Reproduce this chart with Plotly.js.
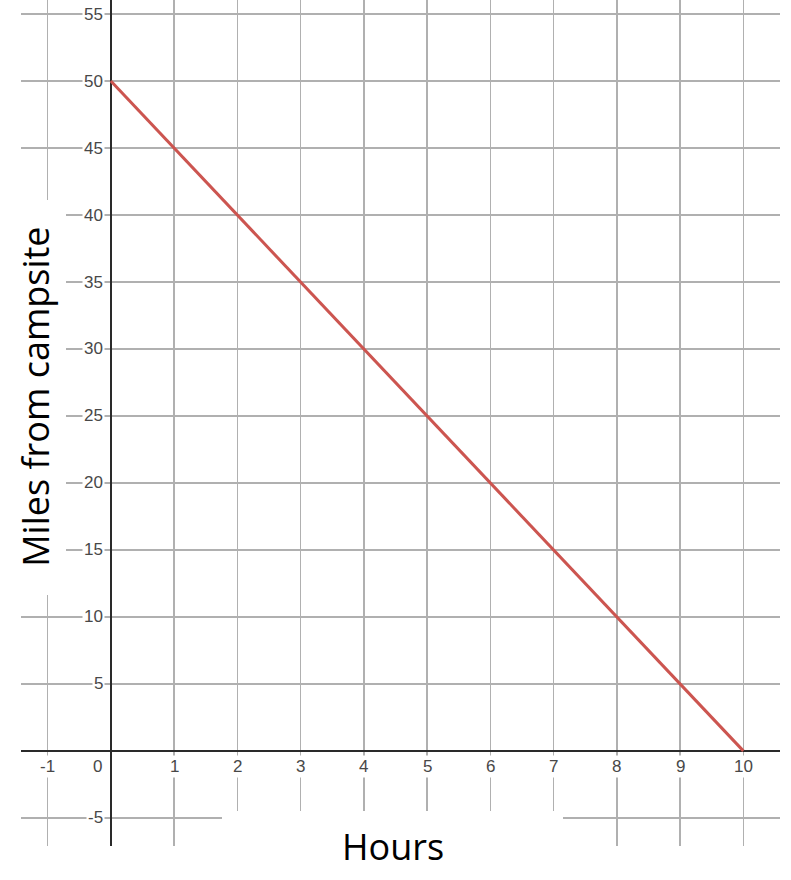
<!DOCTYPE html>
<html>
<head>
<meta charset="utf-8">
<script src="https://cdn.plot.ly/plotly-3.0.1.min.js"></script>
<style>
  body { margin: 0; padding: 0; background: #fff; }
  #chart { width: 791px; height: 880px; }
</style>
</head>
<body>
<div id="chart"></div>
<script>
var hours = [0, 1, 2, 3, 4, 5, 6, 7, 8, 9, 10];
var miles = [50, 45, 40, 35, 30, 25, 20, 15, 10, 5, 0];

var xTickVals = [-1, 0, 1, 2, 3, 4, 5, 6, 7, 8, 9, 10];
var yTickVals = [-5, 5, 10, 15, 20, 25, 30, 35, 40, 45, 50, 55];

var xTitle = 'Hours';
var yTitle = 'Miles from campsite';

var trace = {
    x: hours,
    y: miles,
    mode: 'lines',
    type: 'scatter',
    line: { color: '#cc5550', width: 3 },
    hoverinfo: 'none'
};

var tickFont = { family: 'Liberation Sans, Arial, sans-serif', size: 17, color: '#484848' };
var annotationContent = [];

// x tick labels sit just under the x axis, 0 is pushed left of the y axis
for (var i = 0; i < xTickVals.length; i++) {
    var isZero = xTickVals[i] === 0;
    annotationContent.push({
        x: xTickVals[i],
        y: 0,
        text: String(xTickVals[i]),
        xanchor: isZero ? 'right' : 'center',
        xshift: isZero ? -7 : 0,
        yanchor: 'top',
        yshift: -4,
        showarrow: false,
        bgcolor: '#ffffff',
        borderpad: 1,
        font: tickFont
    });
}

// y tick labels sit just left of the y axis
for (var j = 0; j < yTickVals.length; j++) {
    annotationContent.push({
        x: 0,
        y: yTickVals[j],
        text: String(yTickVals[j]),
        xanchor: 'right',
        xshift: -6,
        yanchor: 'middle',
        showarrow: false,
        bgcolor: '#ffffff',
        borderpad: 1,
        font: tickFont
    });
}

var titleFont = { family: 'Open Sans, sans-serif', size: 36, color: '#000000' };
annotationContent.push({
    xref: 'paper', yref: 'paper',
    x: 0.0198, y: 0.531,
    text: yTitle,
    textangle: -90,
    xanchor: 'center', yanchor: 'middle',
    showarrow: false,
    font: titleFont
});
annotationContent.push({
    xref: 'paper', yref: 'paper',
    x: 0.490, y: 0.0,
    text: xTitle,
    xanchor: 'center', yanchor: 'middle',
    showarrow: false,
    font: titleFont
});

// white patches behind the titles that cut the grid
var shapes = [
    {
        type: 'rect', xref: 'paper', yref: 'paper', layer: 'above',
        x0: -0.03, x1: 0.0593, y0: 0.2967, y1: 0.7636,
        fillcolor: '#ffffff', line: { width: 0 }
    },
    {
        type: 'rect', xref: 'paper', yref: 'paper', layer: 'above',
        x0: 0.2648, x1: 0.7141, y0: -0.05, y1: 0.0414,
        fillcolor: '#ffffff', line: { width: 0 }
    }
];

var layout = {
    width: 791,
    height: 880,
    margin: { l: 21, r: 11, t: 0, b: 34, pad: 0 },
    paper_bgcolor: '#ffffff',
    plot_bgcolor: '#ffffff',
    showlegend: false,
    annotations: annotationContent,
    shapes: shapes,
    xaxis: {
        range: [-1.42, 10.58],
        tickmode: 'linear',
        tick0: 0,
        dtick: 1,
        showgrid: true,
        gridcolor: '#b0b0b0',
        gridwidth: 1.5,
        zeroline: true,
        zerolinecolor: '#2a2a2a',
        zerolinewidth: 2.5,
        showline: false,
        showticklabels: false,
        ticks: '',
        fixedrange: true
    },
    yaxis: {
        range: [-7.1, 56.05],
        tickmode: 'linear',
        tick0: 0,
        dtick: 5,
        showgrid: true,
        gridcolor: '#b0b0b0',
        gridwidth: 1.5,
        zeroline: true,
        zerolinecolor: '#2a2a2a',
        zerolinewidth: 2.5,
        showline: false,
        showticklabels: false,
        ticks: '',
        fixedrange: true
    }
};

Plotly.newPlot('chart', [trace], layout, { displayModeBar: false, staticPlot: true });
</script>
</body>
</html>
